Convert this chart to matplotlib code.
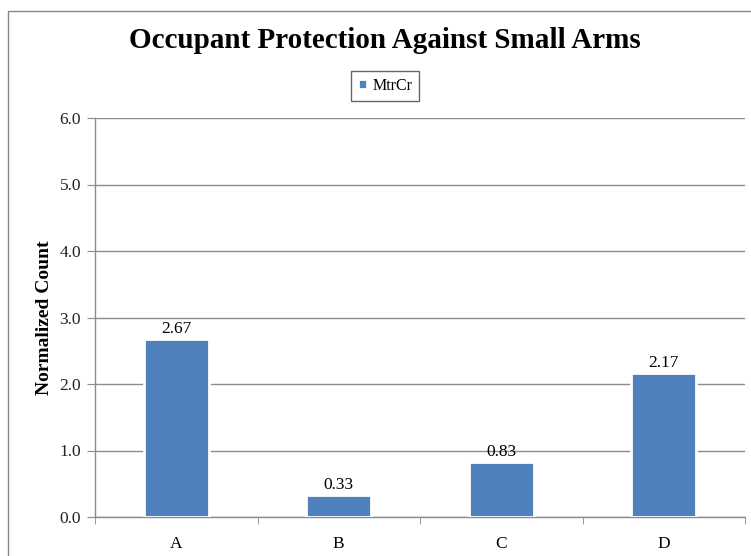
import matplotlib
matplotlib.use("Agg")
import matplotlib.pyplot as plt
from matplotlib.patches import Rectangle
import numpy as np

categories = ["A", "B", "C", "D"]
values = [2.67, 0.33, 0.83, 2.17]
labels = ["2.67", "0.33", "0.83", "2.17"]
series_name = "MtrCr"
yticks = [0.0, 1.0, 2.0, 3.0, 4.0, 5.0, 6.0]

plt.rcParams['font.family'] = ['Liberation Serif', 'DejaVu Serif']

fig = plt.figure(figsize=(7.51, 5.56), dpi=100)
fig.patch.set_facecolor("white")

# outer chart border (partially cropped)
fig.patches.append(Rectangle((8/751, -0.1), 1.2, 1 - 11/556 + 0.1, transform=fig.transFigure,
                             fill=False, edgecolor="#868686", linewidth=1.0))

ax = fig.add_axes([95/751, 39/556, 650/751, 399/556])
x = np.arange(len(categories))
bars = ax.bar(x, values, width=0.4, color="#4f81bd", edgecolor="white", linewidth=2.0,
              zorder=3, label=series_name)

ax.set_xlim(-0.5, len(categories) - 0.5)
ax.set_ylim(0, 6.0)
ax.set_yticks(yticks)
ax.set_yticklabels([f"{v:.1f}" for v in yticks], fontsize=12.5, color="#222222")
ax.yaxis.grid(True, color="#8c8c8c", linewidth=1.0, zorder=0)
ax.set_axisbelow(True)

ax.set_xticks(x)
ax.set_xticklabels(categories, fontsize=12.5)
ax.set_xticks(np.arange(-0.5, len(categories)), minor=True)
ax.tick_params(axis="x", which="major", length=0, pad=14)
ax.tick_params(axis="x", which="minor", length=5, color="#8c8c8c", direction="out")
ax.tick_params(axis="y", length=6, color="#8c8c8c", direction="out", pad=4)

for s in ["top", "right"]:
    ax.spines[s].set_visible(False)
for s in ["left", "bottom"]:
    ax.spines[s].set_color("#8c8c8c")
    ax.spines[s].set_linewidth(1.0)

for xi, v, lab in zip(x, values, labels):
    ax.text(xi, v + 0.03, lab, ha="center", va="bottom", fontsize=12.5, zorder=4)

ax.set_ylabel("Normalized Count", fontsize=14, fontweight="bold", labelpad=5)

fig.text(385/751, 1 - 40/556, "Occupant Protection Against Small Arms", ha="center", va="center",
         fontsize=21, fontweight="bold")

leg = ax.legend(loc="center", bbox_to_anchor=(385/751, 1 - 86/556), bbox_transform=fig.transFigure,
                frameon=True, fancybox=False, fontsize=11.5, handlelength=0.6, handleheight=0.6,
                handletextpad=0.3, borderpad=0.45, edgecolor="#404040")
leg.get_frame().set_linewidth(1.0)

fig.savefig("out.png", dpi=100)
